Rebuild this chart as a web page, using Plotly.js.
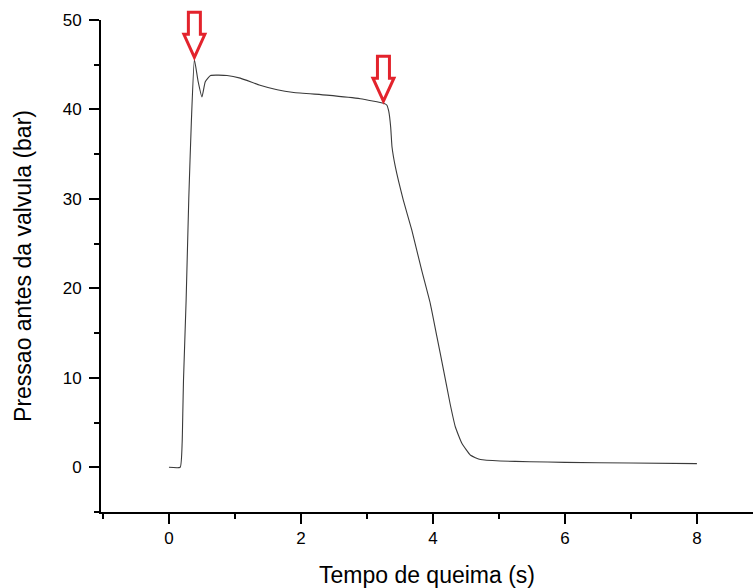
<!DOCTYPE html>
<html>
<head>
<meta charset="utf-8">
<script src="https://cdn.plot.ly/plotly-3.0.1.min.js"></script>
<style>
  html, body { margin: 0; padding: 0; background: #ffffff; overflow: hidden; }
  #chart { width: 753px; height: 588px; }
</style>
</head>
<body>
<div id="chart"></div>
<script>
// Burn time (s)
var tempo = [0, 0.17, 0.20, 0.21, 0.22, 0.26, 0.30, 0.34, 0.385, 0.44, 0.50, 0.55, 0.63, 0.88, 1.08, 1.38, 1.64, 1.89, 2.39, 2.90, 3.25, 3.30, 3.33, 3.36, 3.38, 3.43, 3.55, 3.68, 3.83, 3.96, 4.06, 4.16, 4.26, 4.34, 4.44, 4.57, 4.72, 5.02, 5.47, 6.00, 7.00, 8.00];
// Pressure before valve (bar)
var pressao = [0, 0, 2.8, 6.2, 9.7, 18.7, 30.0, 38.8, 45.6, 43.2, 41.4, 43.1, 43.8, 43.8, 43.5, 42.7, 42.2, 41.9, 41.6, 41.2, 40.7, 40.5, 39.8, 38.0, 35.8, 33.6, 29.9, 26.5, 22.0, 18.3, 14.6, 10.9, 7.1, 4.5, 2.65, 1.34, 0.86, 0.7, 0.62, 0.55, 0.47, 0.41];
// Indices of the points marked with arrows (ignition peak, end of plateau)
var marcados = [8, 20];

var xTickVals = [0, 2, 4, 6, 8];
var yTickVals = [0, 10, 20, 30, 40, 50];
var xRange = [-1.03, 8.85];
var yRange = [-5, 50];

var font = "'Liberation Sans', Arial, sans-serif";

// arrows are drawn in paper space (so they are not clipped by the plot area),
// anchored at the marked data points converted through the axis ranges
var arrowPath = 'M0,2 L-10.5,25 L-6,25 L-6,47 L6,47 L6,25 L10.5,25 Z';
var shapes = marcados.map(function (i) {
  return {
    type: 'path',
    xref: 'paper', yref: 'paper',
    xsizemode: 'pixel', ysizemode: 'pixel',
    xanchor: (tempo[i] - xRange[0]) / (xRange[1] - xRange[0]),
    yanchor: (pressao[i] - yRange[0]) / (yRange[1] - yRange[0]),
    path: arrowPath,
    layer: 'above',
    line: { color: '#e3232c', width: 3 },
    fillcolor: '#ffffff'
  };
});

var trace = {
  x: tempo,
  y: pressao,
  type: 'scatter',
  mode: 'lines',
  line: { color: '#3a3a3a', width: 1.1, shape: 'spline', smoothing: 0.4 },
  hoverinfo: 'x+y'
};

var layout = {
  width: 753,
  height: 588,
  margin: { l: 101, r: 0, t: 20, b: 76 },
  paper_bgcolor: '#ffffff',
  plot_bgcolor: '#ffffff',
  showlegend: false,
  font: { family: font, color: '#000000', size: 17 },
  xaxis: {
    range: xRange,
    tickvals: xTickVals,
    ticktext: xTickVals.map(String),
    ticks: 'outside', ticklen: 10, tickwidth: 2, tickcolor: '#000',
    minor: { dtick: 1, tick0: 1, ticks: 'outside', ticklen: 5, tickwidth: 2, tickcolor: '#000' },
    showline: true, linecolor: '#000', linewidth: 2,
    showgrid: false, zeroline: false,
    tickfont: { family: font, size: 17, color: '#000' },
    title: { text: 'Tempo de queima (s)', font: { family: font, size: 23, color: '#000' }, standoff: 22 }
  },
  yaxis: {
    range: yRange,
    tickvals: yTickVals,
    ticktext: yTickVals.map(String),
    ticks: 'outside', ticklen: 10, tickwidth: 2, tickcolor: '#000',
    minor: { dtick: 5, tick0: 5, ticks: 'outside', ticklen: 5, tickwidth: 2, tickcolor: '#000' },
    showline: true, linecolor: '#000', linewidth: 2,
    showgrid: false, zeroline: false,
    ticklabelstandoff: 4,
    tickfont: { family: font, size: 17, color: '#000' },
    title: { text: 'Pressao antes da valvula (bar)', font: { family: font, size: 23, color: '#000' }, standoff: 25 }
  },
  shapes: shapes
};

Plotly.newPlot('chart', [trace], layout, { displayModeBar: false, staticPlot: true });
</script>
</body>
</html>
